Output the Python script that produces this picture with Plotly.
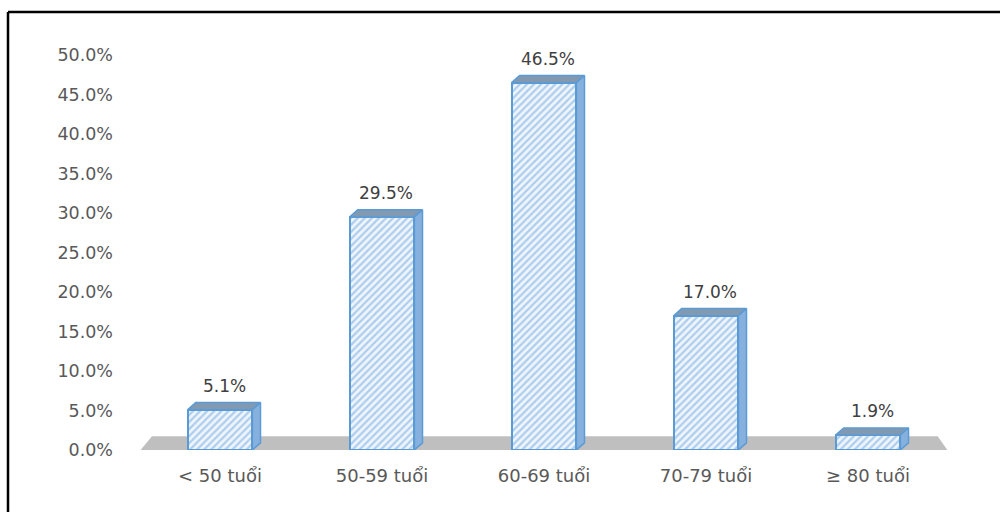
import plotly.graph_objects as go

categories = ["< 50 tuổi", "50-59 tuổi", "60-69 tuổi", "70-79 tuổi", "≥ 80 tuổi"]
values = [5.1, 29.5, 46.5, 17.0, 1.9]
tick_vals = [0, 5, 10, 15, 20, 25, 30, 35, 40, 45, 50]
tick_text = ["0.0%", "5.0%", "10.0%", "15.0%", "20.0%", "25.0%", "30.0%", "35.0%", "40.0%", "45.0%", "50.0%"]

W, H = 1000, 512
ML, MR, MT, MB = 139, 51, 55, 62
BAR_W = 0.40
DX = 0.05   # depth offset (x units)
DY = 0.9    # depth offset (y units)

xs = list(range(len(categories)))
EDGE = "#5B9BD5"

fig = go.Figure()

# floor
fig.add_shape(type="path", xref="x", yref="y", layer="below",
              path="M -0.49 0 L 4.49 0 L 4.43 1.75 L -0.42 1.75 Z",
              fillcolor="#BFBFBF", line=dict(width=0))

# front faces
fig.add_trace(go.Bar(
    x=xs, y=values, width=BAR_W,
    marker=dict(color="#EEF5FC",
                line=dict(color=EDGE, width=2),
                pattern=dict(shape="/", fgcolor="#6FA6DC", bgcolor="#EEF5FC",
                             size=5, solidity=0.45)),
    hoverinfo="skip", showlegend=False))

# top and side faces
for x, v in zip(xs, values):
    l, r = x - BAR_W / 2, x + BAR_W / 2
    fig.add_trace(go.Scatter(
        x=[l, r, r + DX, l + DX, l], y=[v, v, v + DY, v + DY, v],
        mode="lines", fill="toself", fillcolor="#8299B2",
        line=dict(color=EDGE, width=1.5), hoverinfo="skip", showlegend=False))
    fig.add_trace(go.Scatter(
        x=[r, r + DX, r + DX, r, r], y=[0, DY, v + DY, v, 0],
        mode="lines", fill="toself", fillcolor="#86B1DE",
        line=dict(color=EDGE, width=1.5), hoverinfo="skip", showlegend=False))
    fig.add_annotation(x=x + DX / 2, y=v + DY, text=f"{v:.1f}%", showarrow=False,
                       yanchor="bottom", yshift=5, xref="x", yref="y",
                       font=dict(family="DejaVu Sans", size=17, color="#404040"))

# outer frame (top and left edges visible)
pw, ph = W - ML - MR, H - MT - MB
fig.add_shape(type="line", xref="paper", yref="paper",
              x0=(8 - ML) / pw, x1=(1005 - ML) / pw, y0=1 + (MT - 12) / ph, y1=1 + (MT - 12) / ph,
              line=dict(color="black", width=2.5))
fig.add_shape(type="line", xref="paper", yref="paper",
              x0=(8 - ML) / pw, x1=(8 - ML) / pw, y0=1 + (MT - 12) / ph, y1=-(MB + 5) / ph,
              line=dict(color="black", width=2.5))

fig.update_layout(
    width=W, height=H,
    margin=dict(l=ML, r=MR, t=MT, b=MB),
    paper_bgcolor="white", plot_bgcolor="white",
    font=dict(family="DejaVu Sans", size=17, color="#595959"),
    xaxis=dict(range=[-0.5, 4.5], tickmode="array", tickvals=xs, ticktext=categories,
               showgrid=False, zeroline=False, showline=False, ticks="",
               ticklabelstandoff=13, tickfont=dict(size=18)),
    yaxis=dict(range=[0, 50], tickmode="array", tickvals=tick_vals, ticktext=tick_text,
               showgrid=False, zeroline=False, showline=False, ticks="",
               ticklabelstandoff=25, tickfont=dict(size=17.5)),
    bargap=0,
)

fig.write_html("out.html")
